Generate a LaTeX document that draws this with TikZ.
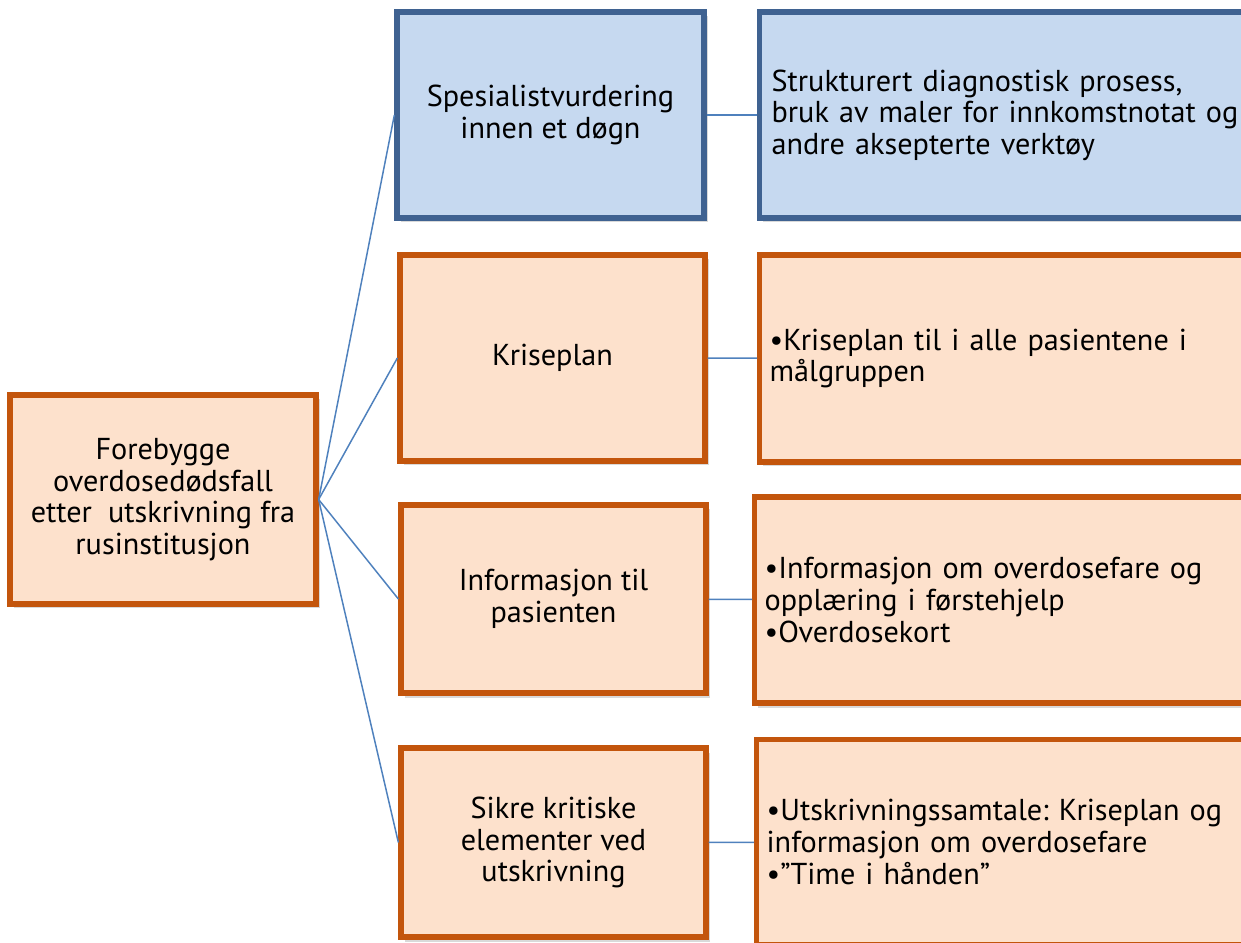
\documentclass[tikz,border=0pt]{standalone}
\usepackage{fontspec}
\setmainfont{PT Sans}
\usetikzlibrary{shadows}
\frenchspacing

\definecolor{boxfill}{RGB}{253,225,204}
\definecolor{boxline}{RGB}{195,85,12}
\definecolor{bluefill}{RGB}{198,217,240}
\definecolor{blueline}{RGB}{63,98,145}
\definecolor{linkline}{RGB}{79,129,189}

\begin{document}
\begin{tikzpicture}
		\tikzstyle{mainbox}=[draw=boxline,fill=boxfill,line width=3pt,align=center,
			drop shadow={shadow xshift=0.07cm,shadow yshift=-0.09cm,opacity=0.3},
			font=\fontsize{17.2}{18}\selectfont]
		\tikzstyle{blue}=[draw=blueline,fill=bluefill]
		\tikzstyle{detailbox}=[mainbox,anchor=west,minimum width=10cm,text width=9.6cm,
			inner xsep=0.2cm,align=left]
		\tikzstyle{link}=[draw=linkline,line width=0.85pt]

		%frame
		\clip (0,0) rectangle (24.82,18.84);
		\useasboundingbox (0,0) rectangle (24.82,18.84);

		%root
		\node[mainbox,minimum width=6.12cm,minimum height=4.18cm] (root) at (3.26,8.85)
			{Forebygge\\overdosedødsfall\\etter\ \ utskrivning fra\\rusinstitusjon};

		%measures
		\node[mainbox,blue,minimum width=6.14cm,minimum height=4.12cm] (spes) at (11.01,16.54)
			{Spesialistvurdering\\innen et døgn};
		\node[mainbox,minimum width=6.1cm,minimum height=4.12cm] (krise) at (11.05,11.68)
			{Kriseplan};
		\node[mainbox,minimum width=6.1cm,minimum height=3.76cm] (info) at (11.07,6.86)
			{Informasjon til\\pasienten};
		\node[mainbox,minimum width=6.1cm,minimum height=3.78cm] (sikre) at (11.07,1.99)
			{Sikre kritiske\\elementer ved\\utskrivning};

		%details
		\node[detailbox,blue,minimum height=4.12cm,inner xsep=0.24cm] (dspes) at (15.14,16.54)
			{Strukturert diagnostisk prosess,\\bruk av maler for innkomstnotat og\\andre aksepterte verktøy};
		\node[detailbox,minimum height=4.14cm,inner xsep=0.05cm] (dkrise) at (15.14,11.67)
			{•Kriseplan til i alle pasientene i\\målgruppen};
		\node[detailbox,minimum height=4.12cm,inner xsep=0.15cm] (dinfo) at (15.04,6.84)
			{•Informasjon om overdosefare og\\opplæring i førstehjelp\\•Overdosekort};
		\node[detailbox,minimum height=4.1cm,inner xsep=0.05cm] (dsikre) at (15.08,2.0)
			{•Utskrivningssamtale: Kriseplan og\\informasjon om overdosefare\\•”Time i hånden”};

		%links
		\foreach \m in {spes,krise,info,sikre}
			\draw[link] (root.east) -- (\m.west);
		\draw[link] (spes) -- (dspes);
		\draw[link] (krise) -- (dkrise);
		\draw[link] (info) -- (dinfo);
		\draw[link] (sikre) -- (dsikre);
	\end{tikzpicture}
\end{document}
